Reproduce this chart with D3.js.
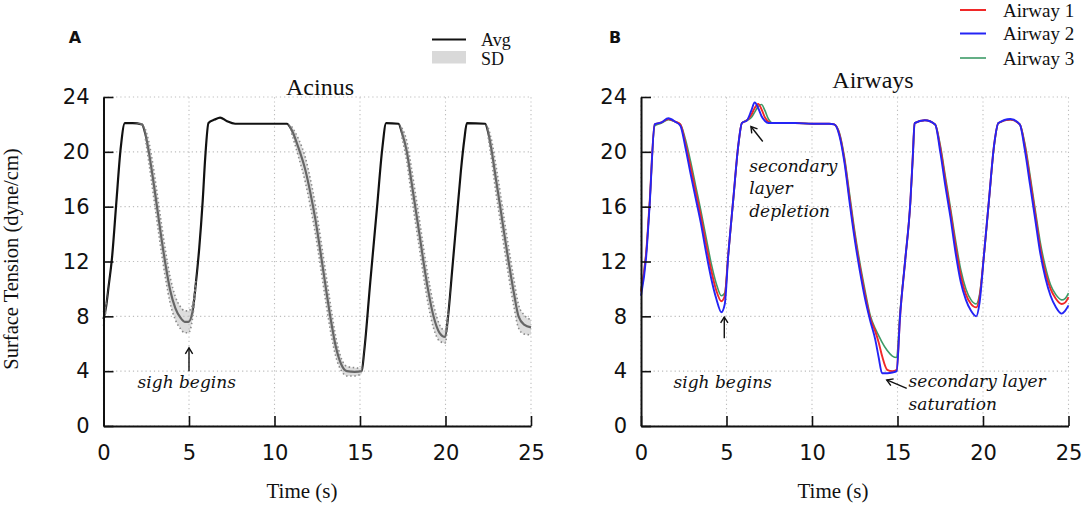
<!DOCTYPE html>
<html>
<head>
<meta charset="utf-8">
<script src="https://cdn.jsdelivr.net/npm/d3@7"></script>
<style>
  html, body { margin: 0; padding: 0; background: #fff; }
  svg { display: block; }
</style>
</head>
<body>
<svg id="chart" width="1087" height="507"></svg>
<script>
// ---------------- DATA ----------------
const xTicks = [0, 5, 10, 15, 20, 25];
const yTicks = [0, 4, 8, 12, 16, 20, 24];

// Panel A: Acinus (average and standard deviation)
const timeA = [0, 0.15, 0.3, 0.5, 0.75, 1.0, 1.25, 1.7, 2.25, 2.45, 2.65, 2.9, 3.15, 3.4, 3.65, 3.9, 4.2, 4.5, 4.75, 4.97,
  5.2, 5.4, 5.6, 5.8, 5.95, 6.14, 6.5, 6.82, 7.2, 7.7, 10.72, 11.0, 11.4, 11.8, 12.1, 12.4, 12.7, 13.0, 13.3, 13.6,
  13.9, 14.23, 14.7, 15.1, 15.25, 15.6, 16.0, 16.3, 16.53, 17.25, 17.45, 17.74, 18.0, 18.23, 18.5, 18.71, 19.0, 19.3, 19.65, 19.98,
  20.15, 20.4, 20.66, 20.9, 21.1, 21.25, 22.32, 22.5, 22.71, 22.95, 23.2, 23.45, 23.69, 24.0, 24.27, 24.6, 25.0];
const avgA = [7.8, 8.7, 10.2, 12.3, 16.3, 20.2, 22.1, 22.1, 22.0, 21.3, 20.0, 18.0, 15.8, 13.6, 11.6, 9.9, 8.6, 7.9, 7.6, 7.6,
  8.3, 10.4, 13.0, 16.4, 19.6, 22.1, 22.35, 22.5, 22.25, 22.05, 22.05, 21.6, 20.3, 18.7, 17.0, 15.0, 12.6, 10.1, 7.7, 5.7,
  4.5, 4.0, 3.95, 4.0, 5.5, 10.5, 16.0, 20.2, 22.1, 22.05, 21.4, 20.0, 17.9, 16.0, 13.8, 12.0, 9.8, 8.0, 6.8, 6.5,
  8.0, 11.5, 15.2, 18.6, 20.9, 22.1, 22.05, 21.4, 20.0, 18.0, 16.0, 13.9, 12.0, 9.7, 8.0, 7.4, 7.2];
const sdA = [0.5, 0.3, 0.1, 0, 0, 0, 0, 0, 0.1, 0.35, 0.75, 1.0, 1.05, 1.05, 1.0, 0.95, 0.85, 0.8, 0.8, 0.8,
  0.5, 0.2, 0, 0, 0, 0, 0, 0, 0, 0, 0, 0.25, 0.65, 0.9, 1.0, 1.05, 1.05, 1.05, 0.95, 0.7,
  0.45, 0.35, 0.3, 0.2, 0.1, 0, 0, 0, 0, 0, 0.35, 0.75, 1.0, 1.05, 1.05, 1.05, 1.0, 0.85, 0.6, 0.45,
  0.3, 0, 0, 0, 0, 0, 0, 0.35, 0.75, 1.0, 1.05, 1.05, 1.05, 1.0, 0.85, 0.7, 0.55];

// Panel B: Airways
const timeB = [0, 0.3, 0.5, 0.8, 1.2, 1.6, 2.0, 2.3, 2.6, 2.9, 3.2, 3.5, 3.8, 4.1, 4.4, 4.7, 4.9, 5.1, 5.4, 5.7,
  5.9, 6.2, 6.45, 6.65, 6.85, 7.05, 7.25, 7.45, 7.7, 8, 9, 10, 11, 11.3, 11.6, 11.9, 12.2, 12.5, 12.8, 13.1,
  13.4, 13.7, 13.9, 14.1, 14.4, 14.7, 14.95, 15.15, 15.45, 15.75, 15.9, 16.0, 16.6, 17.2, 17.5, 17.8, 18.1, 18.4, 18.7, 19.0,
  19.3, 19.6, 19.8, 20.05, 20.35, 20.65, 20.9, 21.6, 22.15, 22.45, 22.75, 23.05, 23.35, 23.65, 23.95, 24.25, 24.6, 24.8, 25];
const airway1 = [9.8, 12.6, 16.2, 22.0, 22.15, 22.4, 22.2, 22.0, 20.6, 18.9, 17.1, 15.3, 13.3, 11.4, 9.9, 9.1, 9.5, 12.5, 16.6, 20.6,
  22.1, 22.3, 22.7, 23.2, 23.5, 23.1, 22.5, 22.2, 22.1, 22.1, 22.1, 22.05, 22.05, 22.0, 21.3, 19.4, 16.6, 13.9, 11.6, 9.6,
  7.9, 6.9, 6.1, 5.1, 4.1, 4.0, 4.1, 8.0, 12.1, 16.3, 19.8, 22.1, 22.3, 22.0, 20.3, 17.9, 15.6, 13.1, 11.0, 9.6,
  8.9, 8.65, 9.4, 12.4, 16.5, 20.5, 22.1, 22.35, 22.0, 20.4, 18.0, 15.5, 13.0, 11.2, 10.0, 9.3, 8.9, 9.0, 9.4];
const airway2 = [9.5, 12.3, 16.0, 22.0, 22.15, 22.45, 22.2, 21.9, 20.3, 18.4, 16.6, 14.8, 12.7, 10.8, 9.3, 8.3, 8.9, 12.4, 16.6, 20.6,
  22.1, 22.3, 23.0, 23.6, 23.2, 22.6, 22.25, 22.1, 22.1, 22.1, 22.1, 22.05, 22.05, 22.0, 21.2, 19.2, 16.3, 13.6, 11.3, 9.3,
  7.7, 6.3, 5.0, 3.85, 3.85, 3.9, 4.0, 8.0, 12.1, 16.3, 19.8, 22.1, 22.3, 22.0, 20.0, 17.5, 15.2, 12.6, 10.5, 9.2,
  8.4, 8.0, 9.0, 12.4, 16.5, 20.5, 22.1, 22.4, 22.0, 20.1, 17.6, 15.1, 12.6, 10.8, 9.5, 8.7, 8.2, 8.4, 8.8];
const airway3 = [9.9, 12.6, 16.1, 21.9, 22.1, 22.35, 22.2, 22.0, 20.9, 19.3, 17.5, 15.7, 13.8, 11.9, 10.4, 9.5, 9.7, 12.4, 16.5, 20.5,
  22.1, 22.3, 22.5, 22.9, 23.3, 23.45, 23.0, 22.4, 22.1, 22.1, 22.1, 22.05, 22.05, 22.0, 21.4, 19.6, 16.9, 14.2, 11.9, 9.9,
  8.1, 7.1, 6.6, 6.1, 5.5, 5.1, 5.0, 8.3, 12.1, 16.2, 19.7, 22.1, 22.3, 22.0, 20.5, 18.2, 15.9, 13.5, 11.4, 10.0,
  9.2, 8.9, 9.6, 12.3, 16.4, 20.4, 22.1, 22.35, 22.0, 20.6, 18.3, 15.8, 13.4, 11.6, 10.3, 9.6, 9.2, 9.3, 9.7];

const airwayNames = ["Airway 1", "Airway 2", "Airway 3"];
const airwayColors = ["#f02828", "#2424f5", "#3d9b68"];

// ---------------- DRAWING ----------------
const svg = d3.select("#chart");
svg.append("rect").attr("width", 1087).attr("height", 507).attr("fill", "#fff");

const y = d3.scaleLinear().domain([0, 24]).range([426, 97]);
const xA = d3.scaleLinear().domain([0, 25]).range([103.5, 531]);
const xB = d3.scaleLinear().domain([0, 25]).range([641, 1068.5]);

const sansFont = "'DejaVu Sans', Verdana, sans-serif";
const serifFont = "'Liberation Serif', 'Times New Roman', serif";
const italFont = "'DejaVu Serif', serif";

function frame(x) {
  const g = svg.append("g");
  g.append("g").selectAll("line").data(xTicks).join("line")
    .attr("x1", d => x(d)).attr("x2", d => x(d))
    .attr("y1", y(0)).attr("y2", y(24))
    .attr("stroke", "#bdbdbd").attr("stroke-width", 1.1).attr("stroke-dasharray", "1.2,3");
  g.append("g").selectAll("line").data(yTicks).join("line")
    .attr("x1", x(0)).attr("x2", x(25))
    .attr("y1", d => y(d)).attr("y2", d => y(d))
    .attr("stroke", "#bdbdbd").attr("stroke-width", 1.1).attr("stroke-dasharray", "1.2,3");
  return g;
}

function axes(x) {
  const ax = svg.append("g").attr("transform", `translate(${x(0)},0)`)
    .call(d3.axisLeft(y).tickValues(yTicks).tickSizeInner(-10).tickSizeOuter(0).tickPadding(14));
  const bx = svg.append("g").attr("transform", `translate(0,${y(0)})`)
    .call(d3.axisBottom(x).tickValues(xTicks).tickSizeInner(-10).tickSizeOuter(0).tickPadding(19));
  [ax, bx].forEach(a => {
    a.select(".domain").attr("stroke", "#111").attr("stroke-width", 2);
    a.selectAll(".tick line").attr("stroke", "#111").attr("stroke-width", 1.6);
    a.selectAll(".tick text").attr("fill", "#111").attr("font-family", sansFont).attr("font-size", 21);
  });
}

function arrow(x1, y1, x2, y2) {
  const ang = Math.atan2(y2 - y1, x2 - x1);
  const L = 7, W = 0.55;
  const g = svg.append("g").attr("stroke", "#111").attr("stroke-width", 1.4).attr("fill", "none");
  g.append("line").attr("x1", x1).attr("y1", y1).attr("x2", x2).attr("y2", y2);
  g.append("path").attr("d",
    `M${x2 - L * Math.cos(ang - W)},${y2 - L * Math.sin(ang - W)}L${x2},${y2}L${x2 - L * Math.cos(ang + W)},${y2 - L * Math.sin(ang + W)}`);
}

function note(x, yy, txt, anchor) {
  svg.append("text").attr("x", x).attr("y", yy).text(txt)
    .attr("font-family", italFont).attr("font-style", "italic").attr("font-size", 17)
    .attr("fill", "#111").attr("text-anchor", anchor || "start");
}

// ---- Panel A ----
frame(xA);
const idxA = d3.range(timeA.length);
const lineA = d3.line().x(i => xA(timeA[i])).y(i => y(avgA[i])).curve(d3.curveMonotoneX);
svg.append("path").attr("d", lineA(idxA)).attr("fill", "none").attr("stroke", "#111").attr("stroke-width", 2.2);
const bandA = d3.area().x(i => xA(timeA[i])).y0(i => y(avgA[i] - sdA[i])).y1(i => y(avgA[i] + sdA[i])).curve(d3.curveMonotoneX);
svg.append("path").attr("d", bandA(idxA)).attr("fill", "#bcbcbc").attr("fill-opacity", 0.5);
const upA = d3.line().defined(i => sdA[i] > 0.15).x(i => xA(timeA[i])).y(i => y(avgA[i] + sdA[i])).curve(d3.curveMonotoneX);
const loA = d3.line().defined(i => sdA[i] > 0.15).x(i => xA(timeA[i])).y(i => y(avgA[i] - sdA[i])).curve(d3.curveMonotoneX);
[upA, loA].forEach(l => svg.append("path").attr("d", l(idxA)).attr("fill", "none")
  .attr("stroke", "#8a8a8a").attr("stroke-width", 1.6).attr("stroke-dasharray", "1.5,2.6"));
axes(xA);

// ---- Panel B ----
frame(xB);
const idxB = d3.range(timeB.length);
const seriesB = [airway1, airway2, airway3];
[2, 0, 1].forEach(k => {
  const l = d3.line().x(i => xB(timeB[i])).y(i => y(seriesB[k][i])).curve(d3.curveMonotoneX);
  svg.append("path").attr("d", l(idxB)).attr("fill", "none")
    .attr("stroke", airwayColors[k]).attr("stroke-width", k === 2 ? 1.6 : 1.9);
});
axes(xB);

// ---- Titles, labels ----
svg.append("text").attr("x", 320).attr("y", 95).attr("text-anchor", "middle")
  .attr("font-family", serifFont).attr("font-size", 24).attr("fill", "#111").text("Acinus");
svg.append("text").attr("x", 873).attr("y", 88).attr("text-anchor", "middle")
  .attr("font-family", serifFont).attr("font-size", 24).attr("fill", "#111").text("Airways");

svg.append("text").attr("x", 75).attr("y", 42.5).attr("text-anchor", "middle")
  .attr("font-family", sansFont).attr("font-weight", "bold").attr("font-size", 16).attr("fill", "#111").text("A");
svg.append("text").attr("x", 615).attr("y", 42.5).attr("text-anchor", "middle")
  .attr("font-family", sansFont).attr("font-weight", "bold").attr("font-size", 16).attr("fill", "#111").text("B");

svg.append("text").attr("transform", "translate(18,259) rotate(-90)").attr("text-anchor", "middle")
  .attr("font-family", serifFont).attr("font-size", 20.5).attr("fill", "#111").text("Surface Tension (dyne/cm)");
svg.append("text").attr("x", 302).attr("y", 498).attr("text-anchor", "middle")
  .attr("font-family", serifFont).attr("font-size", 21).attr("fill", "#111").text("Time (s)");
svg.append("text").attr("x", 833).attr("y", 498).attr("text-anchor", "middle")
  .attr("font-family", serifFont).attr("font-size", 21).attr("fill", "#111").text("Time (s)");

// ---- Legend A ----
svg.append("line").attr("x1", 432).attr("x2", 466).attr("y1", 39.5).attr("y2", 39.5)
  .attr("stroke", "#111").attr("stroke-width", 2);
svg.append("rect").attr("x", 432).attr("y", 51).attr("width", 34).attr("height", 12.5).attr("fill", "#d9d9d9");
svg.append("text").attr("x", 481).attr("y", 45.5).attr("font-family", serifFont).attr("font-size", 18).attr("fill", "#111").text("Avg");
svg.append("text").attr("x", 481).attr("y", 65).attr("font-family", serifFont).attr("font-size", 18).attr("fill", "#111").text("SD");

// ---- Legend B ----
const legY = [10, 33.5, 58];
airwayNames.forEach((n, k) => {
  svg.append("line").attr("x1", 960).attr("x2", 986).attr("y1", legY[k]).attr("y2", legY[k])
    .attr("stroke", airwayColors[k]).attr("stroke-width", k === 2 ? 1.6 : 2);
  svg.append("text").attr("x", 1003).attr("y", legY[k] + 6.5).attr("font-family", serifFont)
    .attr("font-size", 19).attr("fill", "#111").text(n);
});

// ---- Annotations ----
arrow(xA(5), y(4.0), xA(5), y(5.7));
note(xA(4.87), 388, "sigh begins", "middle");

arrow(xB(4.87), y(6.4), xB(4.87), y(7.95));
note(xB(4.78), 388, "sigh begins", "middle");

arrow(xB(7.12), y(20.75), xB(6.43), y(21.85));
note(xB(6.33), 171.5, "secondary");
note(xB(6.33), 194, "layer");
note(xB(6.33), 216.5, "depletion");

arrow(xB(15.54), y(2.75), xB(14.37), y(3.36));
note(xB(15.65), 386.5, "secondary layer");
note(xB(15.65), 410, "saturation");
</script>
</body>
</html>
